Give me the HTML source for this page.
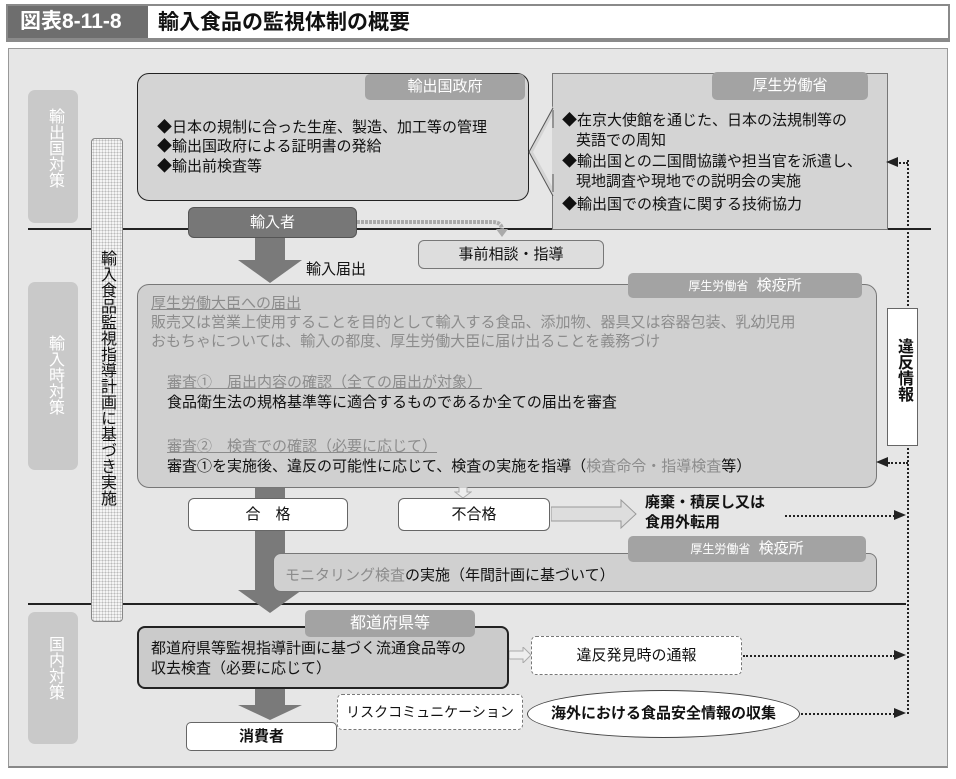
<!DOCTYPE html>
<html><head><meta charset="utf-8"><style>
*{margin:0;padding:0;box-sizing:border-box}
body{width:956px;height:779px;background:#fff;position:relative;overflow:hidden;font-family:"Liberation Sans","Noto Sans CJK JP",sans-serif;color:#111}
.a{position:absolute}
.tab{position:absolute;background:#a3a3a3;color:#fff;border-radius:5px;text-align:center;font-size:15px}
.vt{writing-mode:vertical-rl;text-orientation:upright;position:absolute}
.t{position:absolute;font-size:15px;white-space:nowrap;line-height:20px}
.g{color:#8c8c8c}
u{text-decoration:underline}
</style></head><body>
<!-- title -->
<div class="a" style="left:6px;top:4px;width:944px;height:38px;border:2px solid #8a8a8a;border-bottom-width:4px;background:#fff"></div>
<div class="a" style="left:8px;top:6px;width:140px;height:32px;background:#6e6e6e;color:#fff;font-size:21px;font-weight:bold;line-height:32px;padding-left:12px">図表8-11-8</div>
<div class="t" style="left:158px;top:9px;font-size:21px;font-weight:bold;line-height:28px">輸入食品の監視体制の概要</div>
<!-- panel -->
<div class="a" style="left:8px;top:48px;width:940px;height:720px;background:#e6e6e6;border:1px solid #999;border-bottom:2px solid #888"></div>
<!-- left labels -->
<div class="a" style="left:28px;top:90px;width:50px;height:133px;background:#c9c9c9;border-radius:7px"></div>
<div class="vt" style="left:42px;top:108px;color:#fff;font-size:16px">輸出国対策</div>
<div class="a" style="left:28px;top:282px;width:50px;height:188px;background:#c9c9c9;border-radius:7px"></div>
<div class="vt" style="left:42px;top:335px;color:#fff;font-size:16px">輸入時対策</div>
<div class="a" style="left:28px;top:612px;width:50px;height:132px;background:#c9c9c9;border-radius:7px"></div>
<div class="vt" style="left:42px;top:636px;color:#fff;font-size:16px">国内対策</div>
<!-- horizontal lines -->
<div class="a" style="left:28px;top:228px;width:903px;height:1.5px;background:#222"></div>
<div class="a" style="left:28px;top:603px;width:878px;height:1.5px;background:#222"></div>
<!-- dotted vertical bar -->
<div class="a" style="left:91px;top:138px;width:32px;height:484px;border:1px solid #888;border-radius:4px;background:#f4f4f4;background-image:radial-gradient(#bbb 0.8px,transparent 1px);background-size:3px 3px"></div>
<div class="vt" style="left:96px;top:250px;font-size:16px;line-height:20px">輸入食品監視指導計画に基づき実施</div>
<!-- export govt box -->
<div class="a" style="left:137px;top:73px;width:392px;height:128px;background:#d4d4d4;border:1.5px solid #222;border-radius:12px"></div>
<div class="tab" style="left:365px;top:74px;width:160px;height:26px;line-height:26px">輸出国政府</div>
<div class="t" style="left:157px;top:118px">◆日本の規制に合った生産、製造、加工等の管理</div>
<div class="t" style="left:157px;top:137px">◆輸出国政府による証明書の発給</div>
<div class="t" style="left:157px;top:157px">◆輸出前検査等</div>
<!-- MHLW box -->
<div class="a" style="left:552px;top:73px;width:336px;height:157px;background:#d4d4d4;border:1px solid #777"></div>
<svg class="a" style="left:525px;top:100px" width="32" height="100"><polygon points="28,6 4,52 28,96 28,88 8,52 28,14" fill="#d4d4d4"/><polyline points="28,8 4,52 28,96" fill="none" stroke="#555" stroke-width="1"/><rect x="27" y="10" width="6" height="82" fill="#d4d4d4"/><line x1="28" y1="10" x2="28" y2="28" stroke="#555"/><line x1="28" y1="74" x2="28" y2="92" stroke="#555"/></svg>
<div class="tab" style="left:712px;top:72px;width:156px;height:28px;line-height:28px">厚生労働省</div>
<div class="t" style="left:562px;top:111px">◆在京大使館を通じた、日本の法規制等の</div>
<div class="t" style="left:576px;top:131px">英語での周知</div>
<div class="t" style="left:562px;top:152px">◆輸出国との二国間協議や担当官を派遣し、</div>
<div class="t" style="left:576px;top:172px">現地調査や現地での説明会の実施</div>
<div class="t" style="left:562px;top:195px">◆輸出国での検査に関する技術協力</div>
<!-- importer -->
<div class="a" style="left:188px;top:207px;width:169px;height:31px;background:#777;border:1px solid #555;border-radius:6px;color:#fff;text-align:center;line-height:29px;font-size:15px">輸入者</div>
<svg class="a" style="left:357px;top:212px" width="160" height="30"><path d="M0,10 H135 Q145,10 145,18" fill="none" stroke="#aaa" stroke-width="4" stroke-dasharray="3,1"/><polygon points="139,17 151,17 145,25" fill="#aaa"/></svg>
<div class="a" style="left:418px;top:240px;width:186px;height:29px;background:#ddd;border:1px solid #777;border-radius:6px;text-align:center;line-height:27px;font-size:15px">事前相談・指導</div>
<!-- big arrow 1 -->
<div class="a" style="left:255px;top:238px;width:30px;height:24px;background:#7a7a7a"></div>
<svg class="a" style="left:238px;top:260px" width="64" height="24"><polygon points="0,0 64,0 32,23" fill="#7a7a7a"/></svg>
<div class="t" style="left:306px;top:260px">輸入届出</div>
<!-- main box -->
<div class="a" style="left:137px;top:284px;width:740px;height:204px;background:#d0d0d0;border:1px solid #777;border-radius:12px"></div>
<div class="tab" style="left:628px;top:273px;width:234px;height:25px;line-height:25px"><span style="font-size:12px">厚生労働省</span>&nbsp; 検疫所</div>
<div class="t g" style="left:151px;top:294px"><u>厚生労働大臣への届出</u></div>
<div class="t g" style="left:151px;top:313px">販売又は営業上使用することを目的として輸入する食品、添加物、器具又は容器包装、乳幼児用</div>
<div class="t g" style="left:151px;top:332px">おもちゃについては、輸入の都度、厚生労働大臣に届け出ることを義務づけ</div>
<div class="t g" style="left:167px;top:373px"><u>審査①　届出内容の確認（全ての届出が対象）</u></div>
<div class="t" style="left:167px;top:393px">食品衛生法の規格基準等に適合するものであるか全ての届出を審査</div>
<div class="t g" style="left:167px;top:437px"><u>審査②　検査での確認（必要に応じて）</u></div>
<div class="t" style="left:167px;top:457px">審査①を実施後、違反の可能性に応じて、検査の実施を指導（<span class="g">検査命令・指導検査</span>等）</div>
<!-- dotted vertical line -->
<div class="a" style="left:907px;top:160px;height:554px;border-left:2px dotted #222"></div>
<div class="a" style="left:896px;top:162px;width:12px;border-top:2px dotted #222"></div>
<svg class="a" style="left:886px;top:157px" width="12" height="10"><polygon points="0,5 12,0 12,10" fill="#222"/></svg>
<div class="a" style="left:888px;top:462px;width:20px;border-top:2px dotted #222"></div>
<svg class="a" style="left:876px;top:457px" width="12" height="10"><polygon points="0,5 12,0 12,10" fill="#222"/></svg>
<!-- violation info -->
<div class="a" style="left:887px;top:308px;width:31px;height:138px;background:#fff;border:1px solid #666"></div>
<div class="vt" style="left:894px;top:338px;font-size:16px;font-weight:bold;line-height:18px">違反情報</div>
<!-- shaft 2 -->
<div class="a" style="left:255px;top:488px;width:30px;height:103px;background:#7a7a7a"></div>
<svg class="a" style="left:238px;top:590px" width="64" height="24"><polygon points="0,0 64,0 32,23" fill="#7a7a7a"/></svg>
<!-- pass/fail -->
<div class="a" style="left:188px;top:498px;width:160px;height:33px;background:#fff;border:1px solid #666;border-radius:6px;text-align:center;line-height:31px;font-size:15px">合　格</div>
<svg class="a" style="left:454px;top:487px" width="18" height="12"><polygon points="5,0 13,0 13,5 17,5 9,11 1,5 5,5" fill="#eee" stroke="#aaa"/></svg>
<div class="a" style="left:398px;top:498px;width:152px;height:33px;background:#fff;border:1px solid #666;border-radius:6px;text-align:center;line-height:31px;font-size:15px">不合格</div>
<svg class="a" style="left:551px;top:499px" width="88" height="30"><polygon points="0,8 70,8 70,1 85,15 70,29 70,22 0,22" fill="#ddd" stroke="#999"/></svg>
<div class="t" style="left:645px;top:493px;font-weight:bold">廃棄・積戻し又は</div>
<div class="t" style="left:645px;top:513px;font-weight:bold">食用外転用</div>
<div class="a" style="left:785px;top:515px;width:110px;border-top:2px dotted #222"></div>
<svg class="a" style="left:894px;top:510px" width="12" height="10"><polygon points="12,5 0,0 0,10" fill="#222"/></svg>
<!-- monitoring -->
<div class="a" style="left:273px;top:553px;width:604px;height:39px;background:#d0d0d0;border:1px solid #777;border-radius:8px"></div>
<div class="tab" style="left:628px;top:536px;width:238px;height:26px;line-height:26px"><span style="font-size:12px">厚生労働省</span>&nbsp; 検疫所</div>
<div class="t" style="left:285px;top:566px"><span class="g">モニタリング検査</span>の実施（年間計画に基づいて）</div>
<!-- prefectures -->
<div class="a" style="left:137px;top:626px;width:372px;height:63px;background:#cbcbcb;border:2px solid #222;border-radius:8px"></div>
<div class="tab" style="left:305px;top:610px;width:170px;height:27px;line-height:27px;font-size:16px">都道府県等</div>
<div class="t" style="left:151px;top:639px">都道府県等監視指導計画に基づく流通食品等の</div>
<div class="t" style="left:151px;top:659px">収去検査（必要に応じて）</div>
<svg class="a" style="left:509px;top:647px" width="24" height="16"><polygon points="0,4 14,4 14,0 22,8 14,16 14,12 0,12" fill="#eee" stroke="#aaa"/></svg>
<div class="a" style="left:531px;top:636px;width:211px;height:39px;background:#fff;border:1px dashed #777;border-radius:5px;text-align:center;line-height:37px;font-size:15px">違反発見時の通報</div>
<div class="a" style="left:743px;top:655px;width:152px;border-top:2px dotted #222"></div>
<svg class="a" style="left:894px;top:650px" width="12" height="10"><polygon points="12,5 0,0 0,10" fill="#222"/></svg>
<!-- consumer -->
<div class="a" style="left:255px;top:689px;width:30px;height:17px;background:#7a7a7a"></div>
<svg class="a" style="left:238px;top:705px" width="64" height="16"><polygon points="0,0 64,0 32,15" fill="#7a7a7a"/></svg>
<div class="a" style="left:186px;top:722px;width:151px;height:29px;background:#fff;border:1px solid #666;border-radius:5px;text-align:center;line-height:27px;font-size:15px;font-weight:bold">消費者</div>
<div class="a" style="left:337px;top:694px;width:186px;height:36px;background:#fff;border:1px dashed #777;border-radius:5px;text-align:center;line-height:34px;font-size:14px">リスクコミュニケーション</div>
<div class="a" style="left:527px;top:690px;width:273px;height:48px;background:#fff;border:1px solid #444;border-radius:50%;text-align:center;line-height:46px;font-size:15px;font-weight:bold">海外における食品安全情報の収集</div>
<div class="a" style="left:801px;top:713px;width:94px;border-top:2px dotted #222"></div>
<svg class="a" style="left:894px;top:708px" width="12" height="10"><polygon points="12,5 0,0 0,10" fill="#222"/></svg>
</body></html>
